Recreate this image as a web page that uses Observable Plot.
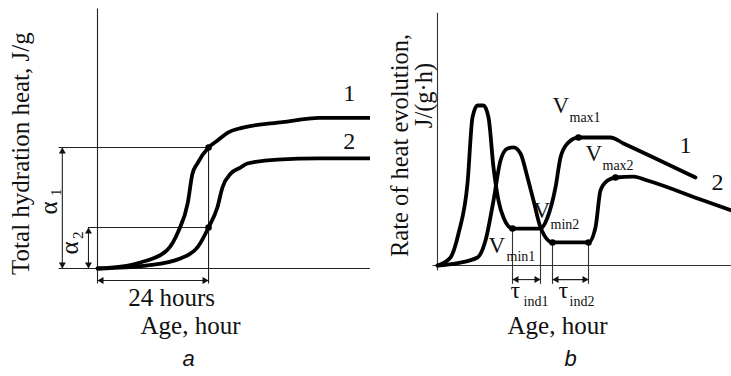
<!DOCTYPE html>
<html><head><meta charset="utf-8">
<script src="https://cdn.jsdelivr.net/npm/d3@7"></script>
<script src="https://cdn.jsdelivr.net/npm/@observablehq/plot@0.6"></script>
<style>
body{margin:0;background:#fff;}
#wrap{display:flex;width:731px;height:376px;overflow:hidden;}
svg{display:block;}
</style></head><body><div id="wrap"></div>
<script>
// ---------- Panel a: total hydration heat (schematic) ----------
const ageA1  = [0, 5, 9.3, 15, 17.5, 19.5, 20.5, 21.6, 24, 26, 28, 31.4, 40, 48, 59];
const heatA1 = [0, 1.5, 5, 15, 31, 54, 78, 87, 100, 106, 112, 116.5, 121, 124.5, 124.5];
const ageA2  = [0, 6, 10.8, 17.9, 21.6, 24, 25.9, 27, 28.8, 30.9, 32.4, 38.9, 48, 59];
const heatA2 = [0, 1, 2.5, 8.3, 17.4, 33.9, 50.4, 67, 78.5, 83.5, 86.8, 90.1, 91, 91];
const alpha1 = 100, alpha2 = 33.9, markAge = 24;

// ---------- Panel b: rate of heat evolution (schematic) ----------
const ageB1  = [0, 2.6, 4.2, 6, 7, 8, 9.2, 10.2, 11.2, 12.2, 13.2, 15, 20.6, 22, 23.6, 24.6, 26, 28.2, 34.6, 37.2, 51.6];
const rateB1 = [0, 5, 20, 51.3, 92.5, 100, 100, 92.5, 61.3, 40.6, 30, 23.1, 23.1, 30, 48.8, 67.5, 76.3, 80, 80, 76.3, 55];
const ageB2  = [0, 4, 8, 9.6, 11.2, 12.6, 14, 15.2, 16.6, 18, 19.2, 20.6, 23, 30.2, 31.6, 32.6, 34, 35.6, 39.2, 42, 53.2, 58.8];
const rateB2 = [0, 1.5, 5, 15.6, 40.6, 65.6, 73.1, 73.8, 70, 55, 40.6, 23.8, 14.4, 14.4, 23.8, 46.9, 53.1, 55, 55.6, 53.1, 40.6, 34.4];
const vminAge1 = [15, 20.6], vmin1 = 23.1;
const vminAge2 = [23, 30.2], vmin2 = 14.4;
const vmaxPts = [{x: 28.2, y: 80}, {x: 35.6, y: 55}];

const SERIF = "Liberation Serif, Times New Roman, serif";
const zip = (xs, ys) => xs.map((x, i) => ({x, y: ys[i]}));

function heads(dims) {
  const out = [];
  for (const d of dims) {
    if (d.y1 === d.y2) { out.push({x: d.x1, y: d.y1, dir: "left"}); out.push({x: d.x2, y: d.y2, dir: "right"}); }
    else { out.push({x: d.x1, y: d.y1, dir: "down"}); out.push({x: d.x2, y: d.y2, dir: "up"}); }
  }
  return out;
}
function headMarks(dims) {
  const h = heads(dims);
  const o = {x: "x", y: "y", symbol: "triangle", r: 2.6, fill: "#111"};
  return [
    Plot.dot(h.filter(d => d.dir === "left"), {...o, rotate: -90, dx: 4}),
    Plot.dot(h.filter(d => d.dir === "right"), {...o, rotate: 90, dx: -4}),
    Plot.dot(h.filter(d => d.dir === "up"), {...o, rotate: 0, dy: 4}),
    Plot.dot(h.filter(d => d.dir === "down"), {...o, rotate: 180, dy: -4})
  ];
}
const txt = (arr, opts) => Plot.text(arr, {x: "x", y: "y", text: "t", fontFamily: SERIF, fill: "#111", lineAnchor: "bottom", ...opts});

// ----- panel a -----
const aGuides = [
  {x1: -8.4, y1: 0, x2: 59, y2: 0},
  {x1: 0, y1: -12.4, x2: 0, y2: 215},
  {x1: -8.4, y1: alpha1, x2: markAge, y2: alpha1},
  {x1: -2, y1: alpha2, x2: markAge, y2: alpha2},
  {x1: markAge, y1: alpha1, x2: markAge, y2: -12.4}
];
const aDims = [
  {x1: 0, y1: -9.9, x2: markAge, y2: -9.9},
  {x1: -7.6, y1: 0, x2: -7.6, y2: alpha1},
  {x1: -1.95, y1: 0, x2: -1.95, y2: alpha2}
];
const plotA = Plot.plot({
  width: 370, height: 376, margin: 0,
  x: {domain: [0, 59], range: [97, 370], axis: null},
  y: {domain: [0, 215], range: [268, 8], axis: null},
  style: {background: "white", overflow: "visible"},
  marks: [
    Plot.link(aGuides, {x1: "x1", y1: "y1", x2: "x2", y2: "y2", stroke: "#222", strokeWidth: 1.1}),
    Plot.link(aDims, {x1: "x1", y1: "y1", x2: "x2", y2: "y2", stroke: "#222", strokeWidth: 1.1}),
    ...headMarks(aDims),
    Plot.line(zip(ageA1, heatA1), {x: "x", y: "y", curve: "monotone-x", stroke: "#000", strokeWidth: 3.8, strokeLinejoin: "round", strokeLinecap: "round"}),
    Plot.line(zip(ageA2, heatA2), {x: "x", y: "y", curve: "monotone-x", stroke: "#000", strokeWidth: 3.8, strokeLinejoin: "round", strokeLinecap: "round"}),
    Plot.dot([{x: markAge, y: alpha1}, {x: markAge, y: alpha2}], {x: "x", y: "y", r: 3.3, fill: "#000"}),
    txt([{x: 54.4, y: 138.8, t: "1"}, {x: 54.4, y: 99.2, t: "2"}], {fontSize: 24, textAnchor: "middle"}),
    txt([{x: 16, y: -30.6, t: "24 hours"}, {x: 20.1, y: -54.5, t: "Age, hour"}], {fontSize: 25, textAnchor: "middle"}),
    txt([{x: -14.9, y: 95, t: "Total hydration heat, J/g"}], {fontSize: 25, textAnchor: "middle", rotate: -90}),
    txt([{x: -8.65, y: 50, t: "α"}, {x: -4.32, y: 17, t: "α"}], {fontSize: 25, textAnchor: "middle", rotate: -90}),
    txt([{x: -7.8, y: 63, t: "1"}, {x: -3.03, y: 27.5, t: "2"}], {fontSize: 15, textAnchor: "middle", rotate: -90}),
    Plot.text([{x: 19.7, y: -81, t: "a"}], {x: "x", y: "y", text: "t", fontSize: 22, fontStyle: "italic", fontFamily: "Liberation Sans, Arial, sans-serif", lineAnchor: "bottom", textAnchor: "middle", fill: "#111"})
  ]
});

// ----- panel b -----
const bGuides = [
  {x1: -1, y1: 0, x2: 58.8, y2: 0},
  {x1: 0, y1: -3.1, x2: 0, y2: 158},
  {x1: vminAge1[0], y1: vmin1, x2: vminAge1[0], y2: -11.5},
  {x1: vminAge1[1], y1: vmin1, x2: vminAge1[1], y2: -11.5},
  {x1: vminAge2[0], y1: vmin2, x2: vminAge2[0], y2: -11.5},
  {x1: vminAge2[1], y1: vmin2, x2: vminAge2[1], y2: -11.5}
];
const bDims = [
  {x1: vminAge1[0], y1: -8.8, x2: vminAge1[1], y2: -8.8},
  {x1: vminAge2[0], y1: -8.8, x2: vminAge2[1], y2: -8.8}
];
const plotB = Plot.plot({
  width: 361, height: 376, margin: 0,
  x: {domain: [0, 58.8], range: [67, 361], axis: null},
  y: {domain: [0, 158.1], range: [265, 12], axis: null},
  style: {background: "white", overflow: "visible"},
  marks: [
    Plot.link(bGuides, {x1: "x1", y1: "y1", x2: "x2", y2: "y2", stroke: "#333", strokeWidth: 1.1}),
    Plot.link(bDims, {x1: "x1", y1: "y1", x2: "x2", y2: "y2", stroke: "#222", strokeWidth: 1.1}),
    ...headMarks(bDims),
    Plot.line(zip(ageB1, rateB1), {x: "x", y: "y", curve: "monotone-x", stroke: "#000", strokeWidth: 3.8, strokeLinejoin: "round", strokeLinecap: "round"}),
    Plot.line(zip(ageB2, rateB2), {x: "x", y: "y", curve: "monotone-x", stroke: "#000", strokeWidth: 3.8, strokeLinejoin: "round", strokeLinecap: "round"}),
    Plot.dot([{x: vminAge1[0], y: vmin1}, {x: vminAge2[0], y: vmin2}, {x: vminAge2[1], y: vmin2}, ...vmaxPts], {x: "x", y: "y", r: 3.3, fill: "#000"}),
    txt([{x: 49.6, y: 70, t: "1"}, {x: 56, y: 46.9, t: "2"}], {fontSize: 24, textAnchor: "middle"}),
    txt([{x: 23, y: 95, t: "V"}, {x: 29.6, y: 65.6, t: "V"}, {x: 19.2, y: 29.4, t: "V"}, {x: 10.2, y: 8.1, t: "V"}], {fontSize: 23, textAnchor: "start"}),
    txt([{x: 26.4, y: 89.4, t: "max1"}, {x: 33, y: 59.4, t: "max2"}, {x: 22.6, y: 23.1, t: "min2"}, {x: 13.8, y: 3.1, t: "min1"}], {fontSize: 14, textAnchor: "start"}),
    txt([{x: 14.6, y: -20.6, t: "τ"}, {x: 24.2, y: -20.6, t: "τ"}], {fontSize: 24, textAnchor: "start"}),
    txt([{x: 17.2, y: -25, t: "ind1"}, {x: 26.4, y: -25, t: "ind2"}], {fontSize: 14, textAnchor: "start"}),
    txt([{x: 24, y: -43.1, t: "Age, hour"}], {fontSize: 25, textAnchor: "middle"}),
    txt([{x: -6, y: 75, t: "Rate of heat evolution,"}], {fontSize: 24.5, textAnchor: "middle", rotate: -90}),
    txt([{x: -1.2, y: 106.25, t: "J/(g·h)"}], {fontSize: 24.5, textAnchor: "middle", rotate: -90}),
    Plot.text([{x: 26.6, y: -63.1, t: "b"}], {x: "x", y: "y", text: "t", fontSize: 22, fontStyle: "italic", fontFamily: "Liberation Sans, Arial, sans-serif", lineAnchor: "bottom", textAnchor: "middle", fill: "#111"})
  ]
});

const wrap = document.getElementById("wrap");
wrap.appendChild(plotA);
wrap.appendChild(plotB);
</script>
</body></html>
